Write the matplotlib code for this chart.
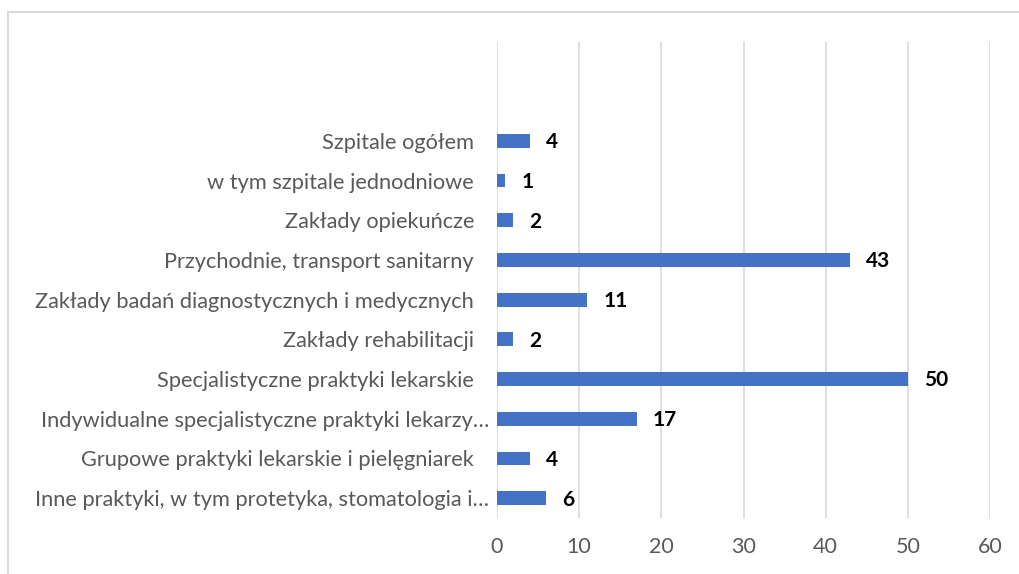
import matplotlib.pyplot as plt
import matplotlib.transforms as mtransforms
from matplotlib.patches import Rectangle

categories = [
    "Szpitale ogółem",
    "w tym szpitale jednodniowe",
    "Zakłady opiekuńcze",
    "Przychodnie, transport sanitarny",
    "Zakłady badań diagnostycznych i medycznych",
    "Zakłady rehabilitacji",
    "Specjalistyczne praktyki lekarskie",
    "Indywidualne specjalistyczne praktyki lekarzy…",
    "Grupowe praktyki lekarskie i pielęgniarek",
    "Inne praktyki, w tym protetyka, stomatologia i…",
]
values = [4, 1, 2, 43, 11, 2, 50, 17, 4, 6]
xticks = [0, 10, 20, 30, 40, 50, 60]

plt.rcParams['font.family'] = ['Lato', 'DejaVu Sans']

W, H = 1019, 574
fig = plt.figure(figsize=(W / 100, H / 100), dpi=100)
ax = fig.add_axes([497 / W, 1 - 518 / H, (990 - 497) / W, (518 - 42) / H])

pos = list(range(len(categories)))
ax.barh(pos, values, height=0.35, color='#4472C4', zorder=3)
for p, v in zip(pos, values):
    ax.annotate(str(v), (v, p), xytext=(11.5, -1), textcoords='offset points',
                va='center', ha='left', fontsize=15, fontweight='bold', color='black')

ax.set_xlim(0, 60)
ax.set_ylim(9.5, -2.49)
ax.set_xticks(xticks)
ax.set_yticks(pos)
ax.set_yticklabels(categories)
ax.grid(axis='x', color='#D9D9D9', linewidth=1.2, zorder=0)
for s in ax.spines.values():
    s.set_visible(False)
ax.tick_params(axis='y', length=0, pad=16.5, labelsize=15.7, labelcolor='#595959')
ax.tick_params(axis='x', length=0, pad=14, labelsize=15.5, labelcolor='#595959')

# truncated labels sit closer to the axis
shift = mtransforms.ScaledTranslation(0.15, 0, fig.dpi_scale_trans)
for lbl in ax.get_yticklabels():
    if lbl.get_text().endswith("…"):
        lbl.set_transform(lbl.get_transform() + shift)

# chart frame (partly cropped)
fig.patches.append(Rectangle((8 / W, -0.1), 1.2, 1 - 12 / H + 0.1, transform=fig.transFigure,
                             fill=False, edgecolor='#D9D9D9', linewidth=1.5))

fig.savefig('out.png', dpi=100)
